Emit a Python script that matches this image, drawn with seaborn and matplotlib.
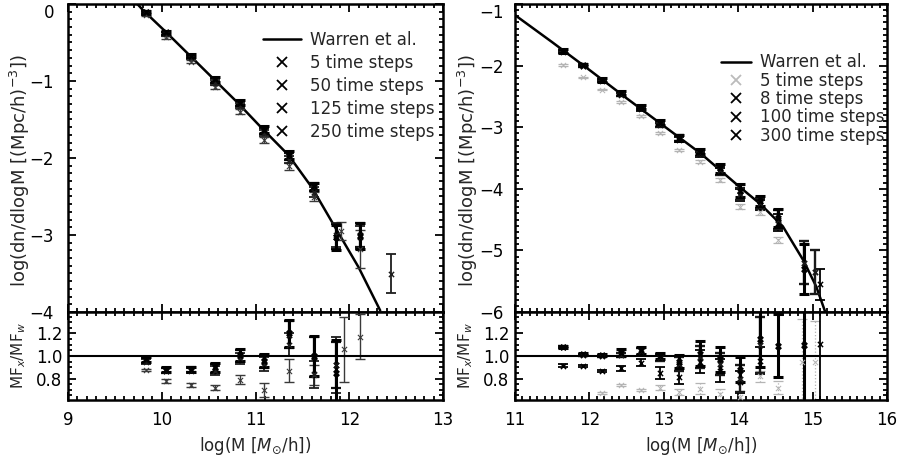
import numpy as np
import pandas as pd
import matplotlib
matplotlib.use("Agg")
import matplotlib.pyplot as plt
import seaborn as sns
from matplotlib.lines import Line2D
from matplotlib.ticker import MultipleLocator

# ---------------- data ----------------
# Left panel: Warren et al. fit
warrenL_m = [9.74, 9.80, 10.05, 10.30, 10.55, 10.80, 11.05, 11.35, 11.60, 11.83, 12.10, 12.33]
warrenL_y = [0.0, -0.08, -0.37, -0.67, -0.97, -1.27, -1.59, -1.96, -2.38, -2.86, -3.42, -3.98]

# Left panel mass functions
L5_m = [9.83, 10.05, 10.31, 10.57, 10.83, 11.09, 11.36, 11.62, 11.91, 12.11]
L5_y = [-0.14, -0.43, -0.75, -1.08, -1.40, -1.77, -2.11, -2.50, -2.95, -3.18]
L5_e = [0.02, 0.02, 0.02, 0.03, 0.03, 0.04, 0.05, 0.06, 0.12, 0.25]
L50_m = [9.83, 10.05, 10.31, 10.57, 10.83, 11.09, 11.36, 11.62, 11.86, 12.11, 12.45]
L50_y = [-0.12, -0.39, -0.70, -1.02, -1.32, -1.68, -2.02, -2.44, -3.00, -3.03, -3.50]
L50_e = [0.02, 0.02, 0.02, 0.03, 0.03, 0.04, 0.05, 0.06, 0.15, 0.15, 0.25]
L125_m = [9.83, 10.05, 10.31, 10.57, 10.83, 11.09, 11.36, 11.62, 11.86, 12.11]
L125_y = [-0.11, -0.38, -0.68, -0.99, -1.29, -1.65, -1.98, -2.38, -3.02, -3.00]
L125_e = [0.02, 0.02, 0.02, 0.03, 0.03, 0.04, 0.05, 0.05, 0.16, 0.16]
L250_m = [9.83, 10.05, 10.31, 10.57, 10.83, 11.09, 11.36, 11.62, 11.86, 12.11]
L250_y = [-0.11, -0.37, -0.67, -0.98, -1.28, -1.63, -1.96, -2.37, -3.03, -3.01]
L250_e = [0.02, 0.02, 0.02, 0.03, 0.03, 0.04, 0.05, 0.05, 0.16, 0.17]

# Left panel ratios MF_x / MF_w
L5r_m = [9.83, 10.05, 10.31, 10.57, 10.83, 11.09, 11.36, 11.62, 11.94, 12.11]
L5r_y = [0.875, 0.78, 0.745, 0.72, 0.79, 0.70, 0.87, 0.83, 1.06, 1.17]
L5r_e = [0.01, 0.015, 0.02, 0.025, 0.04, 0.06, 0.10, 0.09, 0.29, 0.20]
L50r_m = [9.83, 10.05, 10.31, 10.57, 10.83, 11.09, 11.36, 11.62, 11.86]
L50r_y = [0.95, 0.87, 0.87, 0.87, 0.98, 0.93, 1.10, 0.84, 0.92]
L50r_e = [0.02, 0.02, 0.02, 0.04, 0.05, 0.06, 0.10, 0.12, 0.25]
L125r_m = [9.83, 10.05, 10.31, 10.57, 10.83, 11.09, 11.36, 11.62, 11.86]
L125r_y = [0.96, 0.87, 0.88, 0.89, 1.00, 0.95, 1.19, 0.99, 0.92]
L125r_e = [0.02, 0.02, 0.02, 0.04, 0.05, 0.06, 0.12, 0.18, 0.20]
L250r_m = [9.83, 10.05, 10.31, 10.57, 10.83, 11.09, 11.36, 11.62, 11.86]
L250r_y = [0.97, 0.88, 0.88, 0.90, 1.01, 0.96, 1.20, 1.00, 0.85]
L250r_e = [0.02, 0.02, 0.02, 0.04, 0.05, 0.06, 0.12, 0.18, 0.29]

# Right panel: Warren et al. fit
warrenR_m = [11.0, 11.5, 12.0, 12.5, 13.0, 13.5, 14.0, 14.3, 14.6, 14.88, 15.05, 15.17]
warrenR_y = [-1.18, -1.62, -2.07, -2.53, -2.98, -3.43, -3.95, -4.25, -4.61, -5.17, -5.59, -6.0]

# Right panel mass functions
R5_m = [11.65, 11.91, 12.17, 12.42, 12.69, 12.95, 13.21, 13.49, 13.76, 14.02, 14.29, 14.54]
R5_y = [-1.99, -2.19, -2.39, -2.59, -2.82, -3.09, -3.37, -3.56, -3.86, -4.29, -4.38, -4.83]
R5_e = [0.01, 0.01, 0.01, 0.01, 0.01, 0.02, 0.02, 0.02, 0.03, 0.04, 0.04, 0.05]
R8_m = [11.65, 11.91, 12.17, 12.42, 12.69, 12.95, 13.21, 13.49, 13.76, 14.02, 14.29, 14.54, 15.10]
R8_y = [-1.78, -2.01, -2.25, -2.47, -2.70, -2.96, -3.20, -3.44, -3.72, -4.10, -4.26, -4.55, -5.55]
R8_e = [0.02, 0.02, 0.02, 0.02, 0.03, 0.03, 0.04, 0.04, 0.06, 0.09, 0.08, 0.14, 0.25]
R100_m = [11.65, 11.91, 12.17, 12.42, 12.69, 12.95, 13.21, 13.49, 13.76, 14.02, 14.29, 14.54, 14.88, 15.03]
R100_y = [-1.77, -2.00, -2.24, -2.46, -2.68, -2.95, -3.18, -3.42, -3.70, -4.08, -4.23, -4.50, -5.20, -5.35]
R100_e = [0.03, 0.02, 0.03, 0.03, 0.03, 0.04, 0.05, 0.04, 0.07, 0.10, 0.08, 0.15, 0.35, 0.35]
R300_m = [11.65, 11.91, 12.17, 12.42, 12.69, 12.95, 13.21, 13.49, 13.76, 14.02, 14.29, 14.54, 14.88]
R300_y = [-1.76, -1.99, -2.23, -2.45, -2.67, -2.93, -3.17, -3.40, -3.67, -4.03, -4.20, -4.47, -5.30]
R300_e = [0.03, 0.02, 0.03, 0.03, 0.03, 0.04, 0.05, 0.04, 0.07, 0.10, 0.08, 0.15, 0.40]

# Right panel ratios MF_x / MF_w
R5r_m = [12.17, 12.42, 12.69, 12.95, 13.21, 13.49, 13.76, 14.02, 14.29, 14.54, 14.86, 15.03]
R5r_y = [0.67, 0.74, 0.70, 0.72, 0.68, 0.71, 0.66, 0.64, 0.82, 0.72, 0.95, 0.95]
R5r_e = [0.01, 0.01, 0.01, 0.02, 0.03, 0.05, 0.05, 0.05, 0.05, 0.06, 0.38, 0.36]
R8r_m = [11.65, 11.91, 12.17, 12.42, 12.69, 12.95, 13.21, 13.49, 13.76, 14.02, 14.29, 15.10]
R8r_y = [0.915, 0.91, 0.87, 0.89, 0.94, 0.85, 0.81, 0.95, 0.87, 0.77, 0.96, 1.11]
R8r_e = [0.01, 0.01, 0.01, 0.02, 0.03, 0.05, 0.06, 0.10, 0.10, 0.10, 0.12, 0.50]
R100r_m = [11.65, 11.91, 12.17, 12.42, 12.69, 12.95, 13.21, 13.49, 13.76, 14.02, 14.29]
R100r_y = [1.08, 1.01, 1.00, 1.01, 1.04, 0.99, 0.93, 0.99, 0.93, 0.80, 1.10]
R100r_e = [0.01, 0.01, 0.01, 0.02, 0.03, 0.03, 0.06, 0.10, 0.10, 0.12, 0.25]
R300r_m = [11.65, 11.91, 12.17, 12.42, 12.69, 12.95, 13.21, 13.49, 13.76, 14.02, 14.29, 14.54, 14.88]
R300r_y = [1.08, 1.015, 1.01, 1.03, 1.05, 1.00, 0.95, 1.02, 0.97, 0.88, 1.15, 1.09, 1.10]
R300r_e = [0.01, 0.01, 0.01, 0.03, 0.03, 0.03, 0.06, 0.11, 0.11, 0.11, 0.25, 0.28, 0.50]

labels_L = ["5 time steps", "50 time steps", "125 time steps", "250 time steps"]
labels_R = ["5 time steps", "8 time steps", "100 time steps", "300 time steps"]

# ---------------- styling ----------------
sns.set_style("ticks")
plt.rcParams["font.family"] = ["DejaVu Sans"]
plt.rcParams["mathtext.fontset"] = "dejavusans"
plt.rcParams["axes.linewidth"] = 1.8

FS = 12

styles_L = [dict(color="#3a3a3a", lw=1.0, ls="-"),
            dict(color="#1e1e1e", lw=1.3, ls="-"),
            dict(color="#111111", lw=1.6, ls="-"),
            dict(color="#000000", lw=2.2, ls="-")]
styles_R = [dict(color="#b4b4b4", lw=0.9, ls=":"),
            dict(color="#000000", lw=1.3, ls="-"),
            dict(color="#1a1a1a", lw=1.7, ls="-"),
            dict(color="#000000", lw=2.2, ls="-")]

W, H = 897, 455
fig = plt.figure(figsize=(W / 100, H / 100), dpi=100)
axL = fig.add_axes([68 / W, (H - 312) / H, 375 / W, 308 / H])
axLr = fig.add_axes([68 / W, (H - 400) / H, 375 / W, 88 / H])
axR = fig.add_axes([515 / W, (H - 312) / H, 372 / W, 308 / H])
axRr = fig.add_axes([515 / W, (H - 400) / H, 372 / W, 88 / H])


def draw_series(ax, m, y, e, st):
    eb = ax.errorbar(m, y, yerr=e, fmt="none", ecolor=st["color"], elinewidth=st["lw"],
                     capsize=3.5, capthick=st["lw"])
    if st["ls"] != "-":
        for c in eb[2]:
            c.set_linestyle(st["ls"])
    sns.scatterplot(x=m, y=y, ax=ax, marker="x", color=st["color"], s=14,
                    linewidth=st["lw"] * 0.8, legend=False, zorder=3)


def style_axes(ax, xlim, ylim, xmaj, xmin, ymaj, ymin, ypad):
    ax.set_xlim(*xlim)
    ax.set_ylim(*ylim)
    ax.xaxis.set_major_locator(MultipleLocator(xmaj))
    ax.xaxis.set_minor_locator(MultipleLocator(xmin))
    ax.yaxis.set_major_locator(MultipleLocator(ymaj))
    ax.yaxis.set_minor_locator(MultipleLocator(ymin))
    ax.tick_params(which="both", direction="in", top=True, right=True, width=1.3,
                   labelsize=FS, colors="black")
    ax.tick_params(which="major", length=6)
    ax.tick_params(which="minor", length=3)
    ax.tick_params(axis="y", pad=ypad)
    ax.tick_params(axis="x", pad=8)
    for s in ax.spines.values():
        s.set_linewidth(1.8)
        s.set_color("black")


def set_yticks(ax, vals, texts):
    ax.set_yticks(vals)
    ax.set_yticklabels(texts)
    ax.get_yticklabels()[0].set_verticalalignment("top")


# ---------------- left panel ----------------
sns.lineplot(x=warrenL_m, y=warrenL_y, ax=axL, color="black", lw=1.8, sort=False,
             estimator=None)
for (m, y, e), st in zip([(L5_m, L5_y, L5_e), (L50_m, L50_y, L50_e),
                          (L125_m, L125_y, L125_e), (L250_m, L250_y, L250_e)], styles_L):
    draw_series(axL, m, y, e, st)
style_axes(axL, (9, 13), (-4, 0), 1, 0.1, 1, 0.1, 10)
axL.tick_params(labelbottom=False)
set_yticks(axL, [0, -1, -2, -3, -4], ["0", "\u22121", "\u22122", "\u22123", "\u22124"])
axL.set_xlabel("")
axL.set_ylabel(r"log(dn/dlogM [(Mpc/h)$^{-3}$])", fontsize=13)
axL.yaxis.set_label_coords(-0.097, 0.46)

for (m, y, e), st in zip([(L5r_m, L5r_y, L5r_e), (L50r_m, L50r_y, L50r_e),
                          (L125r_m, L125r_y, L125r_e), (L250r_m, L250r_y, L250r_e)], styles_L):
    draw_series(axLr, m, y, e, st)
axLr.axhline(1.0, color="black", lw=1.5)
style_axes(axLr, (9, 13), (0.61, 1.39), 1, 0.1, 0.2, 0.05, 4)
axLr.set_yticks([0.8, 1.0, 1.2])
axLr.set_yticklabels(["0.8", "1.0", "1.2"])
axLr.set_xlabel(r"log(M [$\mathit{M}_{\odot}$/h])", fontsize=FS)
axLr.set_ylabel(r"MF$_x$/MF$_w$", fontsize=11)
axLr.yaxis.set_label_coords(-0.107, 0.5)

hL = [Line2D([], [], color="black", lw=1.8, label="Warren et al.")]
for lab, st in zip(labels_L, styles_L):
    hL.append(Line2D([], [], ls="none", marker="x", color="black", ms=7, mew=1.3, label=lab))
axL.legend(handles=hL, loc="upper left", bbox_to_anchor=(0.502, 0.935), frameon=False,
           fontsize=FS, handlelength=2.3, handletextpad=0.55, labelspacing=0.30,
           borderaxespad=0)

# ---------------- right panel ----------------
sns.lineplot(x=warrenR_m, y=warrenR_y, ax=axR, color="black", lw=1.8, sort=False,
             estimator=None)
for (m, y, e), st in zip([(R5_m, R5_y, R5_e), (R8_m, R8_y, R8_e),
                          (R100_m, R100_y, R100_e), (R300_m, R300_y, R300_e)], styles_R):
    draw_series(axR, m, y, e, st)
style_axes(axR, (11, 16), (-6, -1), 1, 0.1, 1, 0.1, 8)
axR.tick_params(labelbottom=False)
set_yticks(axR, [-1, -2, -3, -4, -5, -6],
           ["\u22121", "\u22122", "\u22123", "\u22124", "\u22125", "\u22126"])
axR.set_xlabel("")
axR.set_ylabel(r"log(dn/dlogM [(Mpc/h)$^{-3}$])", fontsize=13)
axR.yaxis.set_label_coords(-0.094, 0.46)

for (m, y, e), st in zip([(R5r_m, R5r_y, R5r_e), (R8r_m, R8r_y, R8r_e),
                          (R100r_m, R100r_y, R100r_e), (R300r_m, R300r_y, R300r_e)], styles_R):
    draw_series(axRr, m, y, e, st)
axRr.axhline(1.0, color="black", lw=1.5)
style_axes(axRr, (11, 16), (0.61, 1.39), 1, 0.1, 0.2, 0.05, 4)
axRr.set_yticks([0.8, 1.0, 1.2])
axRr.set_yticklabels(["0.8", "1.0", "1.2"])
axRr.set_xlabel(r"log(M [$\mathit{M}_{\odot}$/h])", fontsize=FS)
axRr.set_ylabel(r"MF$_x$/MF$_w$", fontsize=11)
axRr.yaxis.set_label_coords(-0.108, 0.5)

hR = [Line2D([], [], color="black", lw=1.8, label="Warren et al.")]
for lab, st in zip(labels_R, styles_R):
    c = "#bbbbbb" if st["ls"] == ":" else "black"
    hR.append(Line2D([], [], ls="none", marker="x", color=c, ms=7, mew=1.3, label=lab))
axR.legend(handles=hR, loc="upper left", bbox_to_anchor=(0.536, 0.861), frameon=False,
           fontsize=FS, handlelength=1.8, handletextpad=0.55, labelspacing=0.02,
           borderaxespad=0)

fig.savefig("out.png", dpi=100)
